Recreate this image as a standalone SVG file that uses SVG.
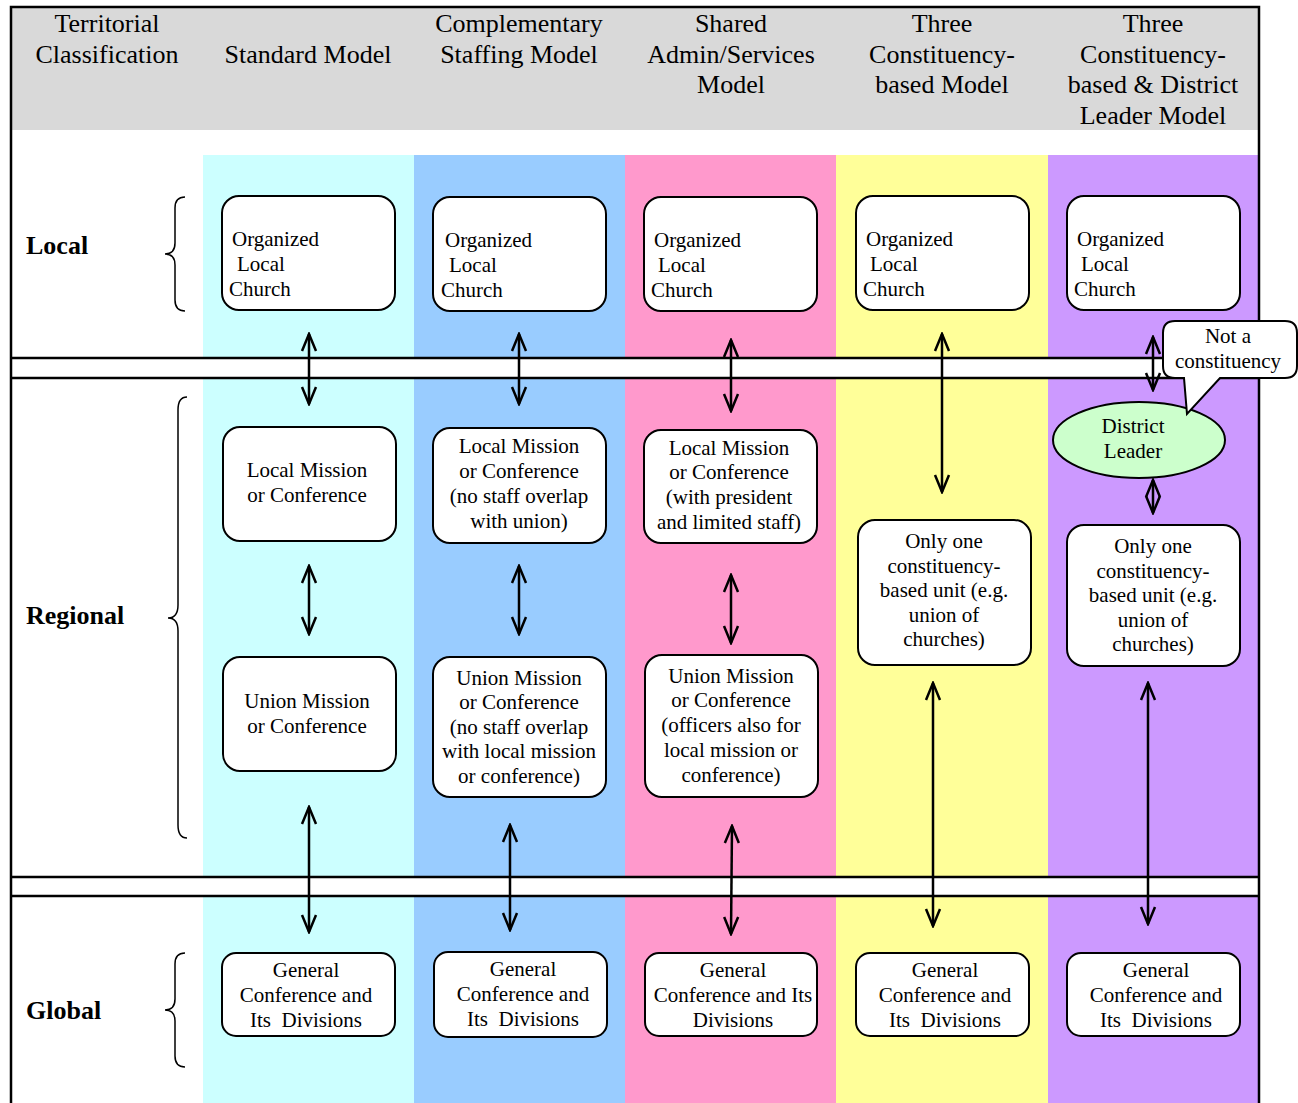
<svg xmlns="http://www.w3.org/2000/svg" width="1298" height="1103" viewBox="0 0 1298 1103">
<style>
text{font-family:"Liberation Serif","Times New Roman",serif;fill:#000}
.h{font-size:26px;text-anchor:middle}
.lv{font-size:26px;font-weight:bold}
.t{font-size:21px;text-anchor:middle}
.tl{font-size:21px}
.box{fill:#fff;stroke:#000;stroke-width:2}
.ln{stroke:#000;stroke-width:2.5;fill:none}
.br{stroke:#000;stroke-width:1.5;fill:none}
.ar{stroke:#000;stroke-width:2.5;fill:none;marker-start:url(#ah);marker-end:url(#ah)}
</style>
<defs>
<marker id="ah" viewBox="0 0 20 20" refX="18" refY="10" markerWidth="20" markerHeight="20" markerUnits="userSpaceOnUse" orient="auto-start-reverse">
<path d="M1,3 L18,10 L1,17" fill="none" stroke="#000" stroke-width="2.5"/>
</marker>
</defs>
<rect x="0" y="0" width="1298" height="1103" fill="#fff"/>
<g id="background">
<rect x="11" y="7" width="1248" height="123" fill="#d9d9d9"/>
<rect x="203" y="155" width="211" height="948" fill="#ccffff"/>
<rect x="414" y="155" width="211" height="948" fill="#99ccff"/>
<rect x="625" y="155" width="211" height="948" fill="#ff99cc"/>
<rect x="836" y="155" width="212" height="948" fill="#ffff99"/>
<rect x="1048" y="155" width="211" height="948" fill="#cc99ff"/>
<rect x="11" y="358" width="1248" height="20" fill="#fff"/>
<rect x="11" y="877" width="1248" height="19" fill="#fff"/>
<path class="ln" d="M11 358 H1259 M11 378 H1259 M11 877 H1259 M11 896 H1259"/>
<path class="ln" d="M11 1103 V7 H1259 V1103"/>
</g>
<g id="header">
<text class="h" x="107" y="32">Territorial</text>
<text class="h" x="107" y="63">Classification</text>
<text class="h" x="308" y="63">Standard Model</text>
<text class="h" x="519" y="32">Complementary</text>
<text class="h" x="519" y="63">Staffing Model</text>
<text class="h" x="731" y="32">Shared</text>
<text class="h" x="731" y="63">Admin/Services</text>
<text class="h" x="731" y="93">Model</text>
<text class="h" x="942" y="32">Three</text>
<text class="h" x="942" y="63">Constituency-</text>
<text class="h" x="942" y="93">based Model</text>
<text class="h" x="1153" y="32">Three</text>
<text class="h" x="1153" y="63">Constituency-</text>
<text class="h" x="1153" y="93">based &amp; District</text>
<text class="h" x="1153" y="124">Leader Model</text>
</g>
<g id="levels">
<text class="lv" x="26" y="254">Local</text>
<text class="lv" x="26" y="624">Regional</text>
<text class="lv" x="26" y="1019">Global</text>
<path class="br" d="M185 197 Q175 197 175 208 V243 Q175 254 165 254 Q175 254 175 265 V300 Q175 311 185 311"/>
<path class="br" d="M187 397 Q178 397 178 410 V605 Q178 618 168 618 Q178 618 178 631 V825 Q178 838 187 838"/>
<path class="br" d="M185 953 Q175 953 175 964 V999 Q175 1010 165 1010 Q175 1010 175 1021 V1056 Q175 1067 185 1067"/>
</g>
<g id="col1">
<g id="c1-local"><rect class="box" x="222" y="196" width="173" height="114" rx="17"/>
<text class="tl" x="232" y="246">Organized</text><text class="tl" x="237" y="271">Local</text><text class="tl" x="229" y="296">Church</text></g>
<g id="c1-lm"><rect class="box" x="223" y="427" width="173" height="114" rx="17"/>
<text class="t" x="307" y="477">Local Mission</text><text class="t" x="307" y="502">or Conference</text></g>
<g id="c1-um"><rect class="box" x="223" y="657" width="173" height="114" rx="17"/>
<text class="t" x="307" y="708">Union Mission</text><text class="t" x="307" y="733">or Conference</text></g>
<g id="c1-gc"><rect class="box" x="222" y="953" width="173" height="83" rx="14"/>
<text class="t" x="306" y="977">General</text><text class="t" x="306" y="1002">Conference and</text><text class="t" x="306" y="1027" xml:space="preserve">Its  Divisions</text></g>
</g>
<g id="col2">
<g id="c2-local"><rect class="box" x="433" y="197" width="173" height="114" rx="17"/>
<text class="tl" x="445" y="247">Organized</text><text class="tl" x="449" y="272">Local</text><text class="tl" x="441" y="297">Church</text></g>
<g id="c2-lm"><rect class="box" x="433" y="428" width="173" height="115" rx="17"/>
<text class="t" x="519" y="453">Local Mission</text><text class="t" x="519" y="478">or Conference</text><text class="t" x="519" y="503">(no staff overlap</text><text class="t" x="519" y="528">with union)</text></g>
<g id="c2-um"><rect class="box" x="433" y="657" width="173" height="140" rx="17"/>
<text class="t" x="519" y="685">Union Mission</text><text class="t" x="519" y="709">or Conference</text><text class="t" x="519" y="734">(no staff overlap</text><text class="t" x="519" y="758">with local mission</text><text class="t" x="519" y="783">or conference)</text></g>
<g id="c2-gc"><rect class="box" x="434" y="952" width="173" height="85" rx="14"/>
<text class="t" x="523" y="976">General</text><text class="t" x="523" y="1001">Conference and</text><text class="t" x="523" y="1026" xml:space="preserve">Its  Divisions</text></g>
</g>
<g id="col3">
<g id="c3-local"><rect class="box" x="644" y="197" width="173" height="114" rx="17"/>
<text class="tl" x="654" y="247">Organized</text><text class="tl" x="658" y="272">Local</text><text class="tl" x="651" y="297">Church</text></g>
<g id="c3-lm"><rect class="box" x="644" y="430" width="173" height="113" rx="17"/>
<text class="t" x="729" y="455">Local Mission</text><text class="t" x="729" y="479">or Conference</text><text class="t" x="729" y="504">(with president</text><text class="t" x="729" y="529">and limited staff)</text></g>
<g id="c3-um"><rect class="box" x="645" y="655" width="173" height="142" rx="17"/>
<text class="t" x="731" y="683">Union Mission</text><text class="t" x="731" y="707">or Conference</text><text class="t" x="731" y="732">(officers also for</text><text class="t" x="731" y="757">local mission or</text><text class="t" x="731" y="782">conference)</text></g>
<g id="c3-gc"><rect class="box" x="645" y="953" width="172" height="83" rx="14"/>
<text class="t" x="733" y="977">General</text><text class="t" x="733" y="1002">Conference and Its</text><text class="t" x="733" y="1027">Divisions</text></g>
</g>
<g id="col4">
<g id="c4-local"><rect class="box" x="856" y="196" width="173" height="114" rx="17"/>
<text class="tl" x="866" y="246">Organized</text><text class="tl" x="870" y="271">Local</text><text class="tl" x="863" y="296">Church</text></g>
<g id="c4-unit"><rect class="box" x="858" y="520" width="173" height="145" rx="17"/>
<text class="t" x="944" y="548">Only one</text><text class="t" x="944" y="573">constituency-</text><text class="t" x="944" y="597">based unit (e.g.</text><text class="t" x="944" y="622">union of</text><text class="t" x="944" y="646">churches)</text></g>
<g id="c4-gc"><rect class="box" x="856" y="953" width="173" height="83" rx="14"/>
<text class="t" x="945" y="977">General</text><text class="t" x="945" y="1002">Conference and</text><text class="t" x="945" y="1027" xml:space="preserve">Its  Divisions</text></g>
</g>
<g id="col5">
<g id="c5-local"><rect class="box" x="1067" y="196" width="173" height="114" rx="17"/>
<text class="tl" x="1077" y="246">Organized</text><text class="tl" x="1081" y="271">Local</text><text class="tl" x="1074" y="296">Church</text></g>
<g id="c5-dl"><ellipse cx="1139" cy="440" rx="86" ry="38" fill="#ccffcc" stroke="#000" stroke-width="2"/>
<text class="t" x="1133" y="433">District</text><text class="t" x="1133" y="458">Leader</text></g>
<g id="c5-unit"><rect class="box" x="1067" y="525" width="173" height="141" rx="17"/>
<text class="t" x="1153" y="553">Only one</text><text class="t" x="1153" y="578">constituency-</text><text class="t" x="1153" y="602">based unit (e.g.</text><text class="t" x="1153" y="627">union of</text><text class="t" x="1153" y="651">churches)</text></g>
<g id="c5-gc"><rect class="box" x="1067" y="953" width="173" height="83" rx="14"/>
<text class="t" x="1156" y="977">General</text><text class="t" x="1156" y="1002">Conference and</text><text class="t" x="1156" y="1027" xml:space="preserve">Its  Divisions</text></g>
</g>
<g id="connectors">
<line class="ar" x1="309" y1="334" x2="309" y2="404"/>
<line class="ar" x1="309" y1="566" x2="309" y2="634"/>
<line class="ar" x1="309" y1="807" x2="309" y2="932"/>
<line class="ar" x1="519" y1="334" x2="519" y2="404"/>
<line class="ar" x1="519" y1="566" x2="519" y2="634"/>
<line class="ar" x1="510" y1="825" x2="510" y2="930"/>
<line class="ar" x1="731" y1="340" x2="731" y2="411"/>
<line class="ar" x1="731" y1="575" x2="731" y2="643"/>
<line class="ar" x1="732" y1="826" x2="731" y2="934"/>
<line class="ar" x1="942" y1="334" x2="942" y2="492"/>
<line class="ar" x1="933" y1="683" x2="933" y2="926"/>
<line class="ar" x1="1153" y1="337" x2="1153" y2="390"/>
<line class="ar" x1="1153" y1="480" x2="1153" y2="513"/>
<line class="ar" x1="1148" y1="683" x2="1148" y2="924"/>
</g>
<g id="callout">
<path d="M1175 321 H1285 Q1297 321 1297 333 V366 Q1297 378 1285 378 H1220 L1187 414 L1184 378 H1175 Q1163 378 1163 366 V333 Q1163 321 1175 321 Z" fill="#fff" stroke="#000" stroke-width="2"/>
<text class="t" x="1228" y="343">Not a</text>
<text class="t" x="1228" y="368">constituency</text>
</g>
</svg>
